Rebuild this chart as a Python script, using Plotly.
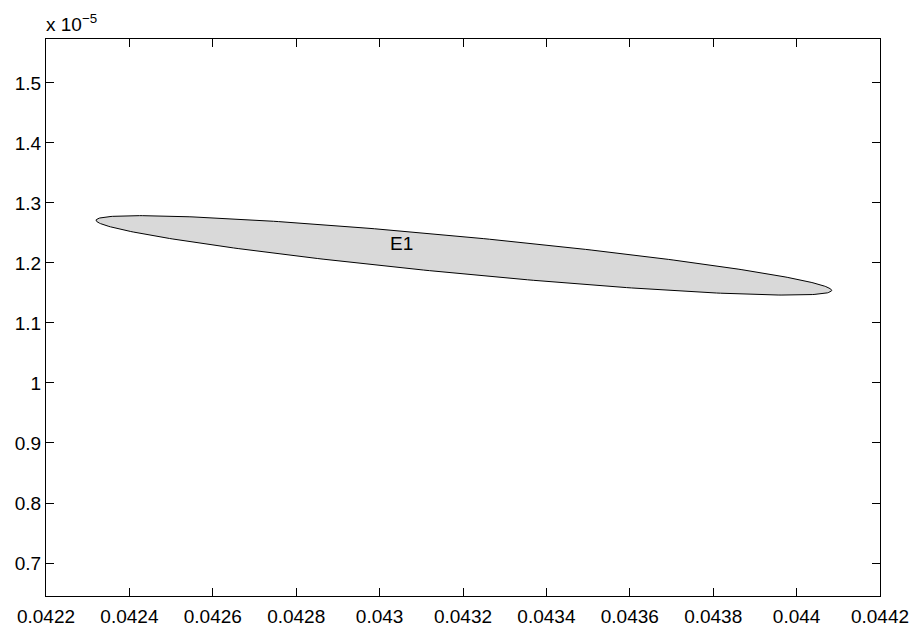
import numpy as np
import plotly.graph_objects as go

# Ellipse E1 parameters (y values in units of 1e-5)
ellipse_center = [0.043202, 1.2127]
ellipse_major = [0.000882, -0.0583]     # half-axis vector
ellipse_minor = [-0.0000043, 0.03135]   # half-axis vector
ellipse_label = "E1"
label_pos = [0.0430537, 1.2327]

x_tickvals = [0.0422, 0.0424, 0.0426, 0.0428, 0.0430, 0.0432, 0.0434, 0.0436, 0.0438, 0.0440, 0.0442]
x_ticktext = ["0.0422", "0.0424", "0.0426", "0.0428", "0.043", "0.0432", "0.0434", "0.0436", "0.0438", "0.044", "0.0442"]
y_tickvals = [0.7, 0.8, 0.9, 1.0, 1.1, 1.2, 1.3, 1.4, 1.5]
y_ticktext = ["0.7", "0.8", "0.9", "1", "1.1", "1.2", "1.3", "1.4", "1.5"]
x_range = [0.0422, 0.0442]
y_range = [0.645, 1.5733]

t = np.linspace(0, 2 * np.pi, 400)
ex = ellipse_center[0] + ellipse_major[0] * np.cos(t) + ellipse_minor[0] * np.sin(t)
ey = ellipse_center[1] + ellipse_major[1] * np.cos(t) + ellipse_minor[1] * np.sin(t)

FONT = "Liberation Sans, Arial, Helvetica, sans-serif"
FS = 19

fig = go.Figure()
fig.add_trace(go.Scatter(
    x=ex, y=ey, mode="lines", fill="toself",
    fillcolor="#d9d9d9", line=dict(color="black", width=1),
    hoverinfo="skip", showlegend=False,
))
fig.add_annotation(x=label_pos[0], y=label_pos[1], text=ellipse_label,
                   showarrow=False, font=dict(family=FONT, size=FS, color="black"))
fig.add_annotation(xref="paper", yref="paper", x=0, y=1, xanchor="left", yanchor="bottom",
                   xshift=-2, yshift=2, text="x 10<sup>−5</sup>", showarrow=False,
                   font=dict(family=FONT, size=FS, color="black"))

axis_common = dict(
    showline=True, linecolor="black", linewidth=1, mirror="ticks",
    ticks="inside", ticklen=8, tickcolor="black", tickwidth=1,
    showgrid=False, zeroline=False, automargin=False,
    tickfont=dict(family=FONT, size=FS, color="black"),
)
fig.update_xaxes(range=x_range, tickvals=x_tickvals, ticktext=x_ticktext,
                 ticklabelstandoff=3, **axis_common)
fig.update_yaxes(range=y_range, tickvals=y_tickvals, ticktext=y_ticktext,
                 ticklabelstandoff=0, **axis_common)

fig.update_layout(
    width=914, height=626,
    margin=dict(l=46, r=34, t=39, b=30),
    paper_bgcolor="white", plot_bgcolor="white",
    font=dict(family=FONT, size=FS, color="black"),
)
fig.write_html("out.html")
